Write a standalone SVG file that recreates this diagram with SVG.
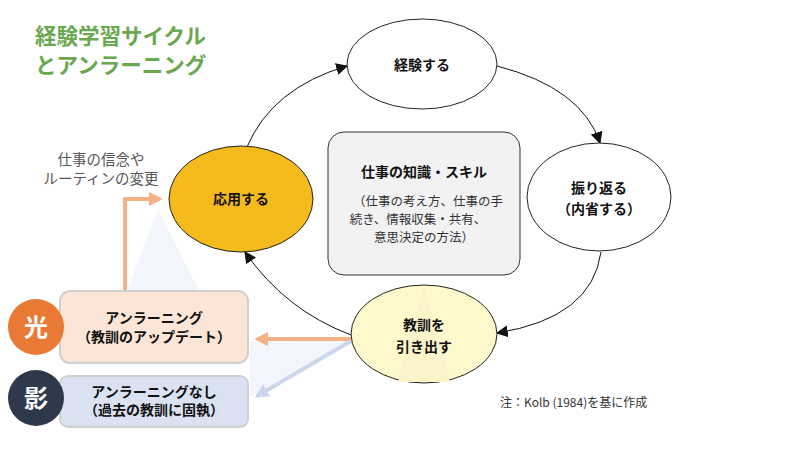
<svg xmlns="http://www.w3.org/2000/svg" width="800" height="450" viewBox="0 0 800 450">
<defs>
<style>
.jp{font-family:"Noto Sans CJK JP","Noto Sans",sans-serif;}
.lbl{font-family:"Noto Sans CJK JP","Noto Sans",sans-serif;font-weight:bold;font-size:14px;fill:#111;text-anchor:middle;}
.sub{font-family:"Noto Sans CJK JP","Noto Sans",sans-serif;font-size:12.5px;fill:#333;text-anchor:middle;}
.ell{stroke:#222;stroke-width:1;}
.cyc{fill:none;stroke:#111;stroke-width:1;marker-end:url(#ab);}
.or{fill:none;stroke:#F4B183;stroke-width:4;}
.bl{fill:none;stroke:#CCD7EE;stroke-width:4;}
</style>
<marker id="ab" viewBox="0 0 10 10" refX="9" refY="5" markerWidth="12" markerHeight="12" markerUnits="userSpaceOnUse" orient="auto"><path d="M0,0 L10,5 L0,10 z" fill="#111"/></marker>
<marker id="ao" viewBox="0 0 10 10" refX="8" refY="5" markerWidth="14" markerHeight="14" markerUnits="userSpaceOnUse" orient="auto"><path d="M0,0 L10,5 L0,10 z" fill="#F4B183"/></marker>
<marker id="abl" viewBox="0 0 10 10" refX="8" refY="5" markerWidth="14" markerHeight="14" markerUnits="userSpaceOnUse" orient="auto"><path d="M0,0 L10,5 L0,10 z" fill="#CCD7EE"/></marker>
</defs>
<rect width="800" height="450" fill="#fff"/>

<g id="title" class="jp" fill="#6AA84F" font-size="21.5" font-weight="bold">
<text x="35" y="44">経験学習サイクル</text>
<text x="35" y="73">とアンラーニング</text>
</g>

<g id="light-cones">
<polygon points="158,210 127,291 199,291" fill="#F2F5FB"/>
<polygon points="351,340 250,342 250,397" fill="#F2F5FB"/>
</g>

<g id="connectors">
<path class="cyc" d="M247,147 Q272,88 347,66"/>
<path class="cyc" d="M497,66 Q582,88 600,143"/>
<path class="cyc" d="M601,252 Q592,318 497,333"/>
<path class="cyc" d="M351,335 Q285,310 245,252"/>
<path class="or" d="M125,291 V199 H160" marker-end="url(#ao)"/>
<path class="or" d="M351,339 H257" marker-end="url(#ao)"/>
<path class="bl" d="M351,341 L257,396" marker-end="url(#abl)"/>
</g>

<g id="node-keiken">
<ellipse class="ell" cx="422" cy="64" rx="75" ry="45" fill="#fff"/>
<text class="lbl" x="422" y="70" font-size="15.5">経験する</text>
</g>

<g id="node-furikaeru">
<ellipse class="ell" cx="599" cy="197" rx="72" ry="54" fill="#fff"/>
<text class="lbl" x="599" y="193">振り返る</text>
<text class="lbl" x="599" y="214">（内省する）</text>
</g>

<g id="node-kyokun">
<ellipse class="ell" cx="424" cy="334" rx="73" ry="49" fill="#FFF8CC"/>
<polygon points="424,286 398,382 450,382" fill="#FBF3CA"/>
<text class="lbl" x="424" y="330">教訓を</text>
<text class="lbl" x="424" y="352">引き出す</text>
</g>

<g id="node-oyo">
<ellipse class="ell" cx="241" cy="199" rx="72" ry="53" fill="#F5BA1B"/>
<text class="lbl" x="241" y="204" font-size="14.5">応用する</text>
</g>

<g id="node-knowledge">
<rect x="328" y="132" width="192" height="143" rx="16" fill="#F2F2F2" stroke="#333" stroke-width="1"/>
<text class="lbl" x="424" y="177" font-size="15">仕事の知識・スキル</text>
<text class="sub" x="428" y="206">（仕事の考え方、仕事の手</text>
<text class="sub" x="418" y="224">続き、情報収集・共有、</text>
<text class="sub" x="424" y="242">意思決定の方法）</text>
</g>

<g id="note-belief" class="jp" font-size="14.5" fill="#555" text-anchor="middle">
<text x="101" y="165">仕事の信念や</text>
<text x="101" y="184">ルーティンの変更</text>
</g>

<g id="node-unlearning">
<rect x="60" y="291" width="188" height="72" rx="10" fill="#FBE5D6" stroke="#D0D0D0" stroke-width="2"/>
<text class="lbl" x="154" y="323">アンラーニング</text>
<text class="lbl" x="154" y="342">（教訓のアップデート）</text>
</g>

<g id="node-no-unlearning">
<rect x="60" y="376" width="188" height="51" rx="8" fill="#DAE2F2" stroke="#D0D0D0" stroke-width="2"/>
<text class="lbl" x="154" y="397">アンラーニングなし</text>
<text class="lbl" x="154" y="415">（過去の教訓に固執）</text>
</g>

<g id="badge-hikari">
<circle cx="36" cy="327" r="28" fill="#E97A35"/>
<text class="jp" x="36" y="336" font-size="24" font-weight="bold" fill="#fff" text-anchor="middle">光</text>
</g>

<g id="badge-kage">
<circle cx="36" cy="398" r="28" fill="#2E3A4C"/>
<text class="jp" x="36" y="407" font-size="24" font-weight="bold" fill="#fff" text-anchor="middle">影</text>
</g>

<g id="source-note">
<text class="jp" x="500" y="407" font-size="12" fill="#333">注：Kolb (1984)を基に作成</text>
</g>
</svg>
